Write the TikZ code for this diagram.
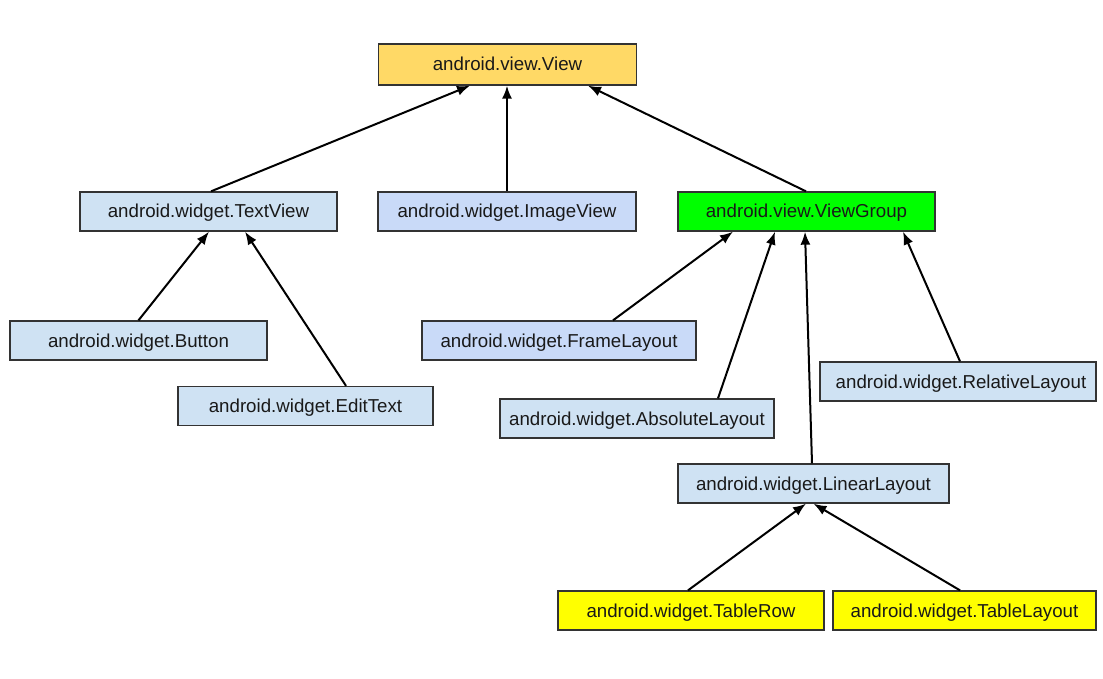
\documentclass[tikz,border=0pt]{standalone}
\usepackage{fontspec}
\setmainfont{Liberation Sans}
\usetikzlibrary{arrows.meta}
\definecolor{cview}{HTML}{FFD966}
\definecolor{cblue}{HTML}{CFE2F3}
\definecolor{cblueb}{HTML}{C9DAF8}
\definecolor{cgreen}{HTML}{00FF00}
\definecolor{cyel}{HTML}{FFFF00}
\definecolor{cbord}{HTML}{333333}
\begin{document}
\begin{tikzpicture}[x=1pt,y=-1pt,
  cls/.style={draw=cbord,line width=1.3pt,minimum height=39pt,inner sep=0pt,
    font=\fontsize{18.7}{22}\selectfont,text=black!90,text height=16pt,text depth=3pt},
  inh/.style={-{Latex[length=13pt,width=10pt]},line width=2pt,black}]
\useasboundingbox (0,0) rectangle (1103,679);
\fill[white] (0,0) rectangle (1103,679);
\node[cls,fill=cview,minimum width=258pt,minimum height=41pt] (view) at (507.5,64.5) {android.view.View};
\node[cls,fill=cblue,minimum width=257pt] (tv) at (208.5,211.5) {android.widget.TextView};
\node[cls,fill=cblueb,minimum width=258pt] (iv) at (507,211.5) {android.widget.ImageView};
\node[cls,fill=cgreen,minimum width=257pt] (vg) at (806.5,211.5) {android.view.ViewGroup};
\node[cls,fill=cblue,minimum width=257pt] (btn) at (138.5,340.5) {android.widget.Button};
\node[cls,fill=cblue,minimum width=255pt] (et) at (305.5,406) {android.widget.EditText};
\node[cls,fill=cblueb,minimum width=274pt] (fl) at (559,340.5) {android.widget.FrameLayout};
\node[cls,fill=cblue,minimum width=274pt] (al) at (637,418.5) {android.widget.AbsoluteLayout};
\node[cls,fill=cblue,minimum width=276pt] (rl) at (958,381.5) {\hspace{6pt}android.widget.RelativeLayout};
\node[cls,fill=cblue,minimum width=271pt] (ll) at (813.5,483.5) {android.widget.LinearLayout};
\node[cls,fill=cyel,minimum width=266pt] (tr) at (691,610.5) {android.widget.TableRow};
\node[cls,fill=cyel,minimum width=263pt] (tl) at (964.5,610.5) {android.widget.TableLayout};
\draw[inh] ([xshift=2.5pt]tv.north) -- ([xshift=-37.5pt]view.south);
\draw[inh] (iv.north) -- (view.south -| iv.north);
\draw[inh] ([xshift=-0.5pt]vg.north) -- ([xshift=80.5pt]view.south);
\draw[inh] (btn.north) -- ([xshift=0.5pt]tv.south);
\draw[inh] ([xshift=40.5pt]et.north) -- ([xshift=36.5pt]tv.south);
\draw[inh] ([xshift=54pt]fl.north) -- ([xshift=-73.5pt]vg.south);
\draw[inh] ([xshift=81pt]al.north) -- ([xshift=-31.5pt]vg.south);
\draw[inh] ([xshift=-1.5pt]ll.north) -- ([xshift=-1.5pt]vg.south);
\draw[inh] ([xshift=2pt]rl.north) -- ([xshift=96.5pt]vg.south);
\draw[inh] ([xshift=-3pt]tr.north) -- ([xshift=-7.5pt]ll.south);
\draw[inh] ([xshift=-4.5pt]tl.north) -- ([xshift=0pt]ll.south);
\end{tikzpicture}
\end{document}
